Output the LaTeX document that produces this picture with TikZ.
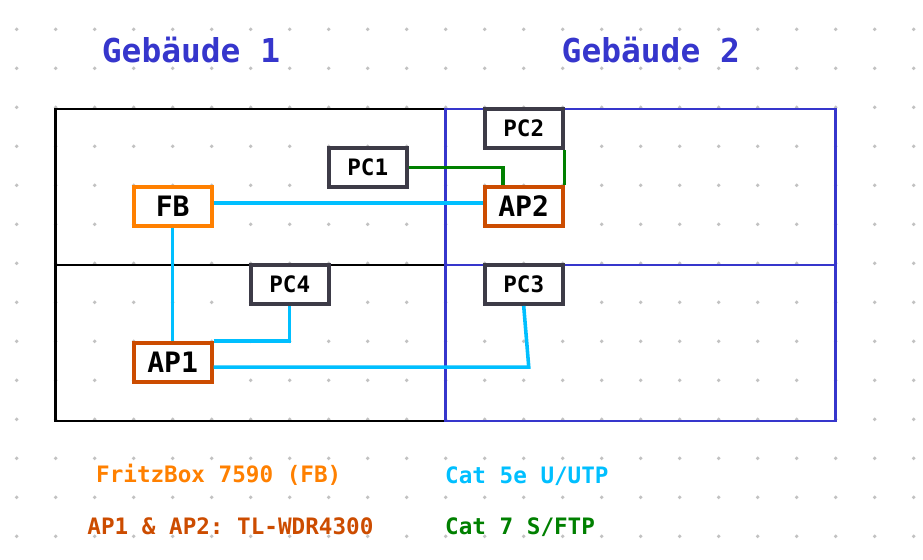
\documentclass[tikz,border=0pt]{standalone}
\usepackage{fontspec}
\setmonofont{DejaVu Sans Mono}
\usepackage{xcolor}
\definecolor{bldblue}{HTML}{3636CC}
\definecolor{fborange}{HTML}{FF8000}
\definecolor{aprust}{HTML}{CC4C00}
\definecolor{pcgray}{HTML}{3D3B47}
\definecolor{catfivec}{HTML}{00BFFF}
\definecolor{catsevenc}{HTML}{008000}
\definecolor{griddot}{HTML}{C2C2C2}
\usepackage{tikz}
\usetikzlibrary{calc,positioning}
\tikzset{
  dev/.style    ={draw,fill=white,line width=2.8pt,minimum width=2cm,
                  minimum height=1cm,inner sep=0pt,
                  font=\ttfamily\bfseries\fontsize{20.5}{24}\selectfont},
  fbbox/.style  ={dev,draw=fborange},
  apbox/.style  ={dev,draw=aprust},
  pcbox/.style  ={dev,draw=pcgray,
                  font=\ttfamily\bfseries\fontsize{16.5}{20}\selectfont},
  title/.style  ={font=\ttfamily\bfseries\fontsize{24}{28}\selectfont,
                  text=bldblue,inner sep=0pt,anchor=base},
  legend/.style ={font=\ttfamily\bfseries\fontsize{16.5}{20}\selectfont,
                  inner sep=0pt},
  building/.style={line width=2pt},
  catfive/.style={draw=catfivec,line width=2.6pt},
  catseven/.style={draw=catsevenc,line width=2.6pt},
}

\begin{document}
\begin{tikzpicture}[x=1cm,y=-1cm]
\useasboundingbox (-0.428,-0.795) rectangle (23.238,13.538);
% dot grid
\foreach \i in {0,...,23}
  \foreach \j in {0,...,13}
    {\fill[griddot] (\i,\j-0.044) circle (0.05);}
% buildings
\draw[building,black] (1,2) rectangle (11,10);
\draw[building,black] (1,6) -- (11,6);
\draw[building,draw=bldblue] (11,2) rectangle (21,10);
\draw[building,draw=bldblue] (11,6) -- (21,6);
\node[title] (geb1) at (4.47,0.82) {Gebäude 1};
\node[title] (geb2) at (16.26,0.82) {Gebäude 2};
% devices
\node[fbbox] (FB)  at (4,4.5)  {FB};
\node[apbox] (AP1) at (4,8.5)  {AP1};
\node[apbox] (AP2) at (13,4.5) {AP2};
\node[pcbox] (PC1) at (9,3.5)  {PC1};
\node[pcbox] (PC2) at (13,2.5) {PC2};
\node[pcbox] (PC3) at (13,6.5) {PC3};
\node[pcbox] (PC4) at (7,6.5)  {PC4};
% Cat 5e cables
\draw[catfive] ([yshift=0.9mm]FB.east) -- ([yshift=0.9mm]AP2.west);
\draw[catfive] (FB.south) -- (AP1.north);
\draw[catfive] (AP1.north east) -| (PC4.south);
\coordinate (kinkC) at (13.13,8.62);
\draw[catfive] ([yshift=-1.2mm]AP1.east) -- (kinkC) -- (PC3.south);
% Cat 7 cables
\draw[catseven] (PC1.east) -| ($(AP2.north west)!0.25!(AP2.north east)$);
\draw[catseven] (PC2.south east) -- (AP2.north east);
% legend
\node[legend,text=fborange,anchor=base] (lgfb) at (5.18,11.58) {FritzBox 7590 (FB)};
\node[legend,text=aprust,anchor=base] (lgap) at (5.48,12.9) {AP1 \& AP2: TL-WDR4300};
\node[legend,text=catfivec,anchor=base west] (lgfive) at (10.98,11.6) {Cat 5e U/UTP};
\node[legend,text=catsevenc,anchor=base west] (lgseven) at (10.98,12.9) {Cat 7 S/FTP};
\end{tikzpicture}
\end{document}
